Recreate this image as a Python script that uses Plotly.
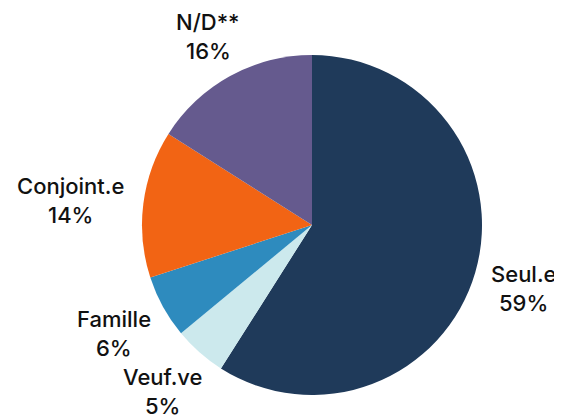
import math
import plotly.graph_objects as go

labels = ["Seul.e", "Veuf.ve", "Famille", "Conjoint.e", "N/D**"]
values = [59, 5, 6, 14, 16]
colors = ["#1f3a5a", "#cce9ed", "#2e8bbe", "#f26414", "#655a8e"]

FONT = "Inter"
FSIZE = 22
PIE_PX = 340  # plot area (square) in px
R = PIE_PX / 2
GAP = 1.10    # label anchor radius factor
LINE = 29     # px between label lines
CHAR_W = 11.2
SHIFT_Y = 3   # small downward nudge of all labels (px)

fig = go.Figure(go.Pie(
    labels=labels,
    values=values,
    sort=False,
    direction="clockwise",
    rotation=0,
    marker=dict(colors=colors, line=dict(width=0)),
    textinfo="none",
    hoverinfo="label+percent",
    showlegend=False,
))

total = sum(values)
cum = 0
for lab, v in zip(labels, values):
    mid = (cum + v / 2) / total
    cum += v
    th = 2 * math.pi * mid
    dx, dy = math.sin(th), -math.cos(th)  # screen direction (y down)
    pct = f"{round(100 * v / total)}%"
    w = max(len(lab), len(pct)) * CHAR_W
    h = 2 * LINE + 4
    cx = R * GAP * dx + w / 2 * dx
    cy = R * GAP * dy + h / 2 * dy + SHIFT_Y
    for txt, off in ((lab, -LINE / 2), (pct, LINE / 2)):
        fig.add_annotation(
            x=0.5 + cx / PIE_PX, y=0.5 - (cy + off) / PIE_PX,
            xref="paper", yref="paper", text=txt, showarrow=False,
            xanchor="center", yanchor="middle", borderpad=0,
            font=dict(family=FONT, size=FSIZE, color="#111111", weight=500),
        )

fig.update_layout(
    width=562, height=418,
    margin=dict(l=134, r=88, t=47, b=31),
    paper_bgcolor="white",
    plot_bgcolor="white",
)
fig.write_html("out.html")
